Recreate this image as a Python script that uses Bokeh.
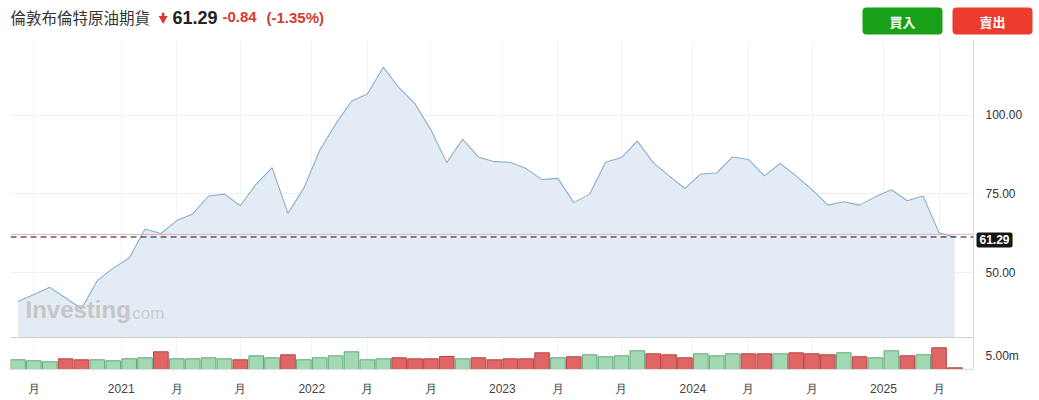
from bokeh.plotting import figure
from bokeh.models import Range1d, FixedTicker, Span, Label, ColumnDataSource, BoxAnnotation
from bokeh.layouts import column
from bokeh.embed import file_html
from bokeh.resources import INLINE

# ---------------- data ----------------
title_text = "倫敦布倫特原油期貨"
last_price = 61.29
change = -0.84
change_pct = -1.35
prev_close = 62.13
buy_text = "買入"
sell_text = "賣出"

months = list(range(60))  # monthly, Jun 2020 .. May 2025
close = [40.8, 43.0, 45.3, 41.9, 38.5, 47.5, 51.4, 54.6, 63.8, 62.4,
         66.5, 68.6, 74.3, 74.9, 71.2, 78.1, 83.3, 68.8, 76.8, 88.8,
         97.1, 104.4, 106.7, 115.2, 108.6, 103.6, 95.3, 84.9, 92.3, 86.7,
         85.2, 85.0, 83.0, 79.5, 79.9, 72.2, 74.9, 85.0, 86.5, 91.7,
         84.9, 80.7, 76.7, 81.3, 81.6, 86.7, 85.9, 80.7, 84.6, 80.7,
         76.3, 71.4, 72.5, 71.4, 74.1, 76.3, 72.8, 74.3, 62.6, 61.29]
volume_m = [3.65, 3.27, 2.90, 4.02, 3.65, 3.65, 3.27, 4.02, 4.40, 6.65,
            4.02, 4.02, 4.40, 4.02, 3.65, 5.15, 4.40, 5.53, 3.65, 4.40,
            5.15, 6.65, 3.65, 4.02, 4.40, 4.02, 4.02, 4.89, 4.02, 4.40,
            3.65, 4.02, 4.02, 6.28, 4.40, 4.78, 5.53, 4.78, 5.15, 7.03,
            5.90, 5.53, 4.40, 5.90, 5.15, 5.90, 5.90, 5.90, 5.90, 6.28,
            5.90, 5.53, 6.28, 4.78, 4.40, 7.03, 5.15, 5.53, 8.16, 0.64]
x_tick_pos = [1, 6.5, 10, 14, 18.5, 22, 26, 30.5, 34, 38, 42.5, 46, 50, 54.5, 58]
x_tick_labels = ["月", "2021", "月", "月", "2022", "月", "月", "2023",
                 "月", "月", "2024", "月", "月", "2025", "月"]
price_ticks = [50, 75, 100]
vol_tick = 5.0

# ---------------- layout helpers (pixel mapping of the reference) ----------------
PAGE_W = 1039
HEADER_H = 40
FRAME_LEFT, FRAME_RIGHT = 10, 973
FRAME_TOP, FRAME_BOTTOM = 40, 369
X0_PAGE, DX = 17.5, 15.88
Y75_PAGE, PX_PER_UNIT = 193.3, 3.15
VOL_PX_PER_M = 13.3 / 5.0
PANE_BOTTOM_PAGE = 337


def px_x(px):
    return (px - X0_PAGE) / DX


def px_price(py):
    return 75 - (py - Y75_PAGE) / PX_PER_UNIT


PANE_FLOOR = px_price(PANE_BOTTOM_PAGE)
VOL_END = (FRAME_BOTTOM - FRAME_TOP) / VOL_PX_PER_M

LATIN = "Liberation Sans"
CJK = "Noto Sans CJK TC"
RED_TXT = "#d63b30"


def no_align(fig):
    try:
        fig.frame_align = False
    except Exception:
        pass


# ---------------- header figure (page pixel coordinates) ----------------
h = figure(width=PAGE_W, height=HEADER_H, x_range=Range1d(0, PAGE_W), y_range=Range1d(HEADER_H, 0),
           output_backend="svg", toolbar_location=None, x_axis_type=None, y_axis_type=None,
           min_border=0, min_border_left=0, min_border_right=0, min_border_top=0,
           min_border_bottom=0, outline_line_color=None)
h.grid.visible = False
no_align(h)

h.add_layout(Label(x=10, y=16.5, text=title_text, text_baseline="middle", text_font=CJK,
                   text_font_size="15.5px", text_color="#333333"))
h.quad(left=[161.3], right=[163.9], top=[12.2], bottom=[16.8], fill_color=RED_TXT, line_color=None)
h.scatter(x=[162.6], y=[18.2], marker="inverted_triangle", size=9, fill_color=RED_TXT,
          line_color=None)
h.add_layout(Label(x=172, y=16.5, text=f"{last_price:.2f}", text_baseline="middle", text_font=LATIN,
                   text_font_size="18px", text_font_style="bold", text_color="#222222"))
h.add_layout(Label(x=222, y=16.5, text=f"{change:+.2f}", text_baseline="middle", text_font=LATIN,
                   text_font_size="15px", text_font_style="bold", text_color=RED_TXT))
h.add_layout(Label(x=266, y=16.5, text=f"({change_pct:+.2f}%)", text_baseline="middle",
                   text_font=LATIN, text_font_size="15px", text_font_style="bold",
                   text_color=RED_TXT))
h.add_layout(BoxAnnotation(left=862, right=942, top=7, bottom=34, fill_color="#18a018", fill_alpha=1,
                           line_color=None, border_radius=4))
h.add_layout(BoxAnnotation(left=952, right=1032, top=7, bottom=34, fill_color="#ec3b2f",
                           fill_alpha=1, line_color=None, border_radius=4))
h.add_layout(Label(x=902, y=20.5, text=buy_text, text_align="center", text_baseline="middle",
                   text_font=CJK, text_font_size="13px", text_font_style="bold", text_color="white"))
h.add_layout(Label(x=992, y=20.5, text=sell_text, text_align="center", text_baseline="middle",
                   text_font=CJK, text_font_size="13px", text_font_style="bold", text_color="white"))

# ---------------- chart figure ----------------
p = figure(frame_width=FRAME_RIGHT - FRAME_LEFT, frame_height=FRAME_BOTTOM - FRAME_TOP,
           x_range=Range1d(px_x(FRAME_LEFT), px_x(FRAME_RIGHT)),
           y_range=Range1d(px_price(FRAME_BOTTOM), px_price(FRAME_TOP)),
           output_backend="svg", toolbar_location=None, y_axis_location="right",
           min_border_left=FRAME_LEFT, min_border_right=PAGE_W - FRAME_RIGHT,
           min_border_top=0, min_border_bottom=400 - FRAME_BOTTOM,
           outline_line_color=None, background_fill_color="white")
no_align(p)
p.extra_y_ranges = {"vol": Range1d(0, VOL_END)}

colors, lines = [], []
for i, c in enumerate(close):
    up = i == 0 or c >= close[i - 1]
    colors.append("#a3d8b3" if up else "#e06565")
    lines.append("#62a87a" if up else "#b84444")

src = ColumnDataSource(dict(x=months, close=close, vol=volume_m, color=colors, line=lines))

p.varea(x="x", y1=PANE_FLOOR, y2="close", source=src, fill_color="#e3ecf5")
p.line(x="x", y="close", source=src, line_color="#8aaecd", line_width=1.1)

p.vbar(x="x", width=0.92, top="vol", bottom=0, source=src, y_range_name="vol",
       fill_color="color", line_color="line", line_width=1)

p.add_layout(Span(location=PANE_FLOOR, dimension="width", line_color="#cfcfcf", line_width=1))
p.add_layout(Span(location=prev_close, dimension="width", line_color="#eea8c2", line_width=1))
p.add_layout(Span(location=last_price, dimension="width", line_color="#111111", line_width=1,
                  line_dash="6 4"))

# watermark
p.add_layout(Label(x=px_x(25), y=px_price(322), text="Investing", text_font=LATIN,
                   text_font_size="24px", text_font_style="bold", text_color="#c6c6c6"))
p.add_layout(Label(x=px_x(127), y=px_price(322), text=".com", text_font=LATIN,
                   text_font_size="17px", text_color="#cccccc"))

# price tag, in the right side panel (not clipped to the frame)
p.add_layout(Label(x=px_x(976), y=last_price, y_offset=-3, text=f"{last_price:.2f}",
                   text_baseline="middle", text_font=LATIN, text_font_size="12px",
                   text_font_style="bold", text_color="white",
                   background_fill_color="#161616", padding=3, border_radius=2), "right")

# ---------------- axes ----------------
vol_tick_as_price = p.y_range.start + vol_tick / VOL_END * (p.y_range.end - p.y_range.start)
ya = p.yaxis[0]
ya.ticker = FixedTicker(ticks=[vol_tick_as_price] + price_ticks)
overrides = {t: f"{t:.2f}" for t in price_ticks}
overrides[vol_tick_as_price] = f"{vol_tick:.2f}m"
ya.major_label_overrides = overrides
ya.major_tick_line_color = None
ya.minor_tick_line_color = None
ya.axis_line_color = "#dadada"
ya.major_label_standoff = 6
ya.major_label_text_font = LATIN
ya.major_label_text_font_size = "12px"
ya.major_label_text_color = "#333333"

xa = p.xaxis[0]
xa.ticker = FixedTicker(ticks=x_tick_pos)
xa.major_label_overrides = dict(zip(x_tick_pos, x_tick_labels))
xa.major_tick_line_color = None
xa.minor_tick_line_color = None
xa.axis_line_color = "#dedede"
xa.major_label_standoff = 6
xa.major_label_text_font = LATIN
xa.major_label_text_font_size = "12px"
xa.major_label_text_color = "#444444"

p.xgrid.ticker = FixedTicker(ticks=x_tick_pos)
p.xgrid.grid_line_color = "#f3f3f3"
p.ygrid.ticker = FixedTicker(ticks=price_ticks)
p.ygrid.grid_line_color = "#f0f0f0"

layout = column(h, p)
open("out.html", "w").write(file_html(layout, INLINE))
